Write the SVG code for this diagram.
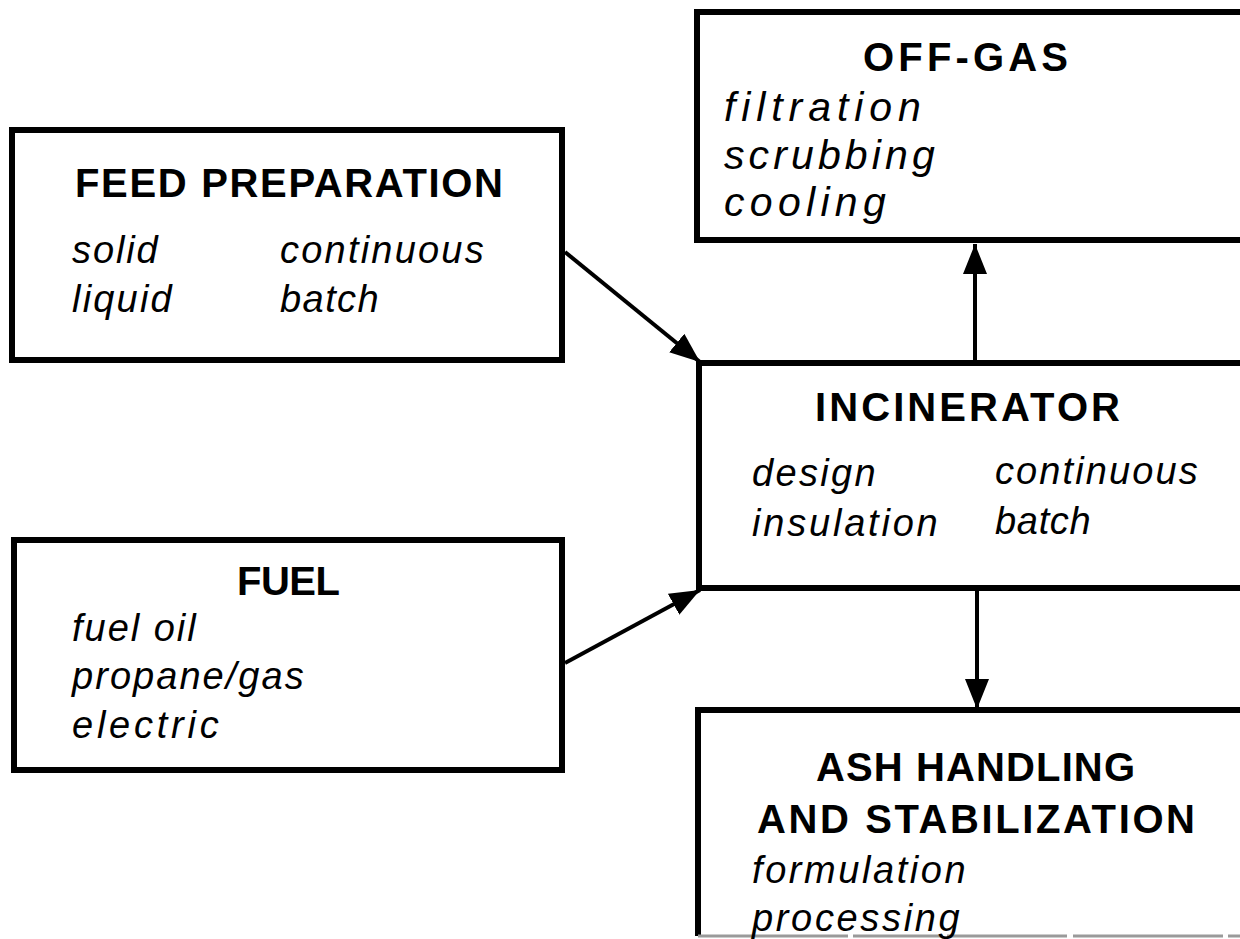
<svg xmlns="http://www.w3.org/2000/svg" width="1240" height="939" viewBox="0 0 1240 939">
  <style>
    .box { fill: #ffffff; stroke: #000000; stroke-width: 6; }
    .edge { fill: none; stroke: #000000; stroke-width: 6; }
    .cut { fill: none; stroke: #9a9a9a; stroke-width: 3; stroke-dasharray: 150 5 90 4 120 6; }
    .title { font-family: "Liberation Sans", Arial, sans-serif; font-weight: bold; font-size: 40px; fill: #000000; }
    .item { font-family: "Liberation Sans", Arial, sans-serif; font-style: italic; font-size: 38px; letter-spacing: 2.3px; fill: #000000; }
    .item.wide { font-size: 41px; }
    .flow { fill: none; stroke: #000000; stroke-width: 4; }
  </style>
  <defs>
    <marker id="head" viewBox="0 0 30 24" refX="30" refY="12" markerWidth="30" markerHeight="24" markerUnits="userSpaceOnUse" orient="auto">
      <path d="M0,0 L30,12 L0,24 Z" fill="#000000"/>
    </marker>
  </defs>
  <rect width="1240" height="939" fill="#ffffff"/>

  <g id="feed-preparation">
    <rect class="box" x="12" y="130" width="550" height="230"/>
    <text class="title" x="75" y="197" textLength="428" lengthAdjust="spacing">FEED PREPARATION</text>
    <text class="item" x="72" y="263" textLength="88" lengthAdjust="spacing">solid</text>
    <text class="item" x="280" y="263" textLength="206" lengthAdjust="spacing">continuous</text>
    <text class="item" x="72" y="312" textLength="102" lengthAdjust="spacing">liquid</text>
    <text class="item" x="280" y="312" textLength="101" lengthAdjust="spacing">batch</text>
  </g>

  <g id="fuel">
    <rect class="box" x="14" y="540" width="548" height="230"/>
    <text class="title" x="237" y="595" textLength="103" lengthAdjust="spacing">FUEL</text>
    <text class="item" x="72" y="641" textLength="126" lengthAdjust="spacing">fuel oil</text>
    <text class="item" x="72" y="689" textLength="234" lengthAdjust="spacing">propane/gas</text>
    <text class="item" x="72" y="738" textLength="149" lengthAdjust="spacing">electric</text>
  </g>

  <g id="off-gas">
    <rect class="box" x="697" y="12" width="560" height="228"/>
    <text class="title" x="863" y="71" textLength="205" lengthAdjust="spacing">OFF-GAS</text>
    <text class="item wide" x="724" y="121" textLength="199" lengthAdjust="spacing">filtration</text>
    <text class="item wide" x="724" y="169" textLength="213" lengthAdjust="spacing">scrubbing</text>
    <text class="item wide" x="724" y="216" textLength="164" lengthAdjust="spacing">cooling</text>
  </g>

  <g id="incinerator">
    <rect class="box" x="699" y="363" width="560" height="225"/>
    <text class="title" x="815" y="421" textLength="305" lengthAdjust="spacing">INCINERATOR</text>
    <text class="item" x="752" y="486" textLength="126" lengthAdjust="spacing">design</text>
    <text class="item" x="995" y="484" textLength="205" lengthAdjust="spacing">continuous</text>
    <text class="item" x="752" y="536" textLength="188" lengthAdjust="spacing">insulation</text>
    <text class="item" x="995" y="534" textLength="98" lengthAdjust="spacing">batch</text>
  </g>

  <g id="ash-handling">
    <path class="edge" d="M1260,710 H698 V936"/>
    <line class="cut" x1="698" y1="936" x2="1240" y2="936"/>
    <text class="title" x="816" y="781" textLength="319" lengthAdjust="spacing">ASH HANDLING</text>
    <text class="title" x="757" y="833" textLength="438" lengthAdjust="spacing">AND  STABILIZATION</text>
    <text class="item" x="752" y="883" textLength="216" lengthAdjust="spacing">formulation</text>
    <text class="item" x="752" y="931" textLength="210" lengthAdjust="spacing">processing</text>
  </g>

  <g id="connectors">
    <line class="flow" x1="565" y1="252" x2="700" y2="362" marker-end="url(#head)"/>
    <line class="flow" x1="565" y1="663" x2="700" y2="590" marker-end="url(#head)"/>
    <line class="flow" x1="975" y1="363" x2="975" y2="244" marker-end="url(#head)"/>
    <line class="flow" x1="977" y1="588" x2="977" y2="709" marker-end="url(#head)"/>
  </g>
</svg>
